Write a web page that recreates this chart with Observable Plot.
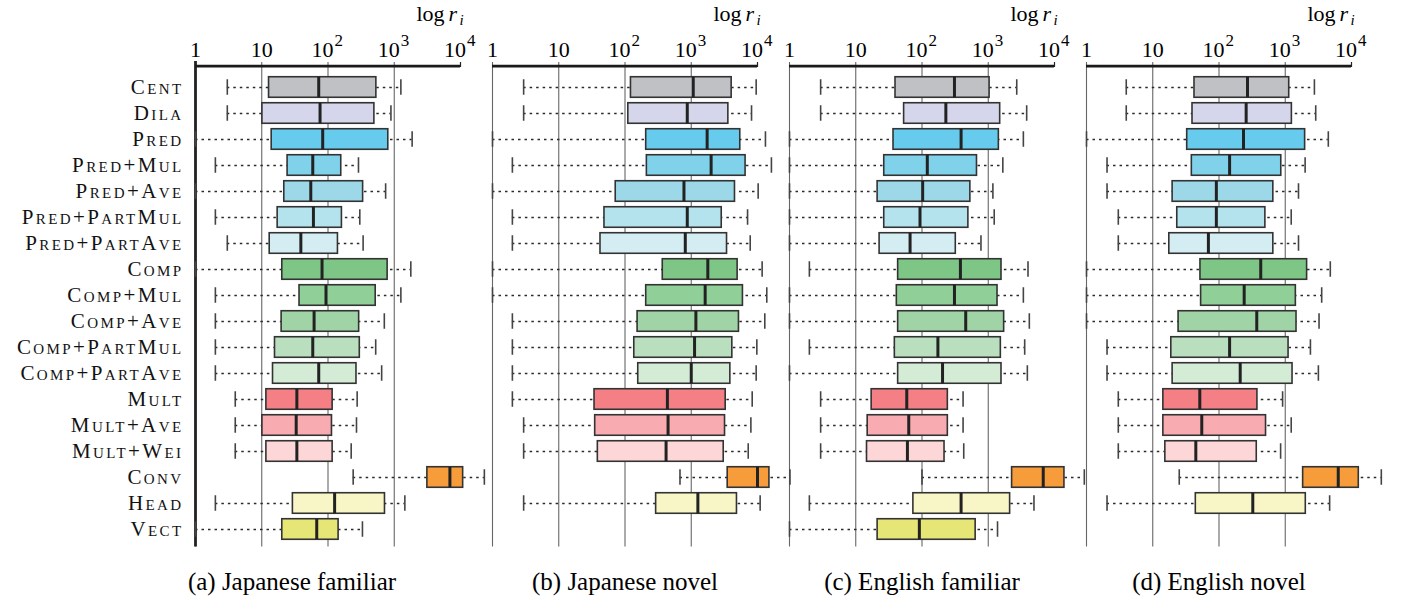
<!DOCTYPE html>
<html><head><meta charset="utf-8">
<script src="https://cdn.jsdelivr.net/npm/d3@7"></script>
<script src="https://cdn.jsdelivr.net/npm/@observablehq/plot@0.6"></script>
<style>
body { margin: 0; background: #fff; }
g[aria-label="y-axis tick label"] text { letter-spacing: 2.4px; font-variant: small-caps; }
</style>
</head><body><div id="chart"></div>
<script>
const categories = ["Cent","Dila","Pred","Pred+Mul","Pred+Ave","Pred+PartMul","Pred+PartAve","Comp","Comp+Mul","Comp+Ave","Comp+PartMul","Comp+PartAve","Mult","Mult+Ave","Mult+Wei","Conv","Head","Vect"];
const colors = ["#bfc1c4","#d5d5eb","#66cbed","#7fd2e9","#9dd8e8","#b4e3ee","#d4edf2","#7ec685","#91cf98","#a0d4a6","#b9dfbf","#d4ebd6","#f47f85","#f8abb0","#fdd6d7","#f79c3b","#f8f6c6","#e6e676"];
const panels = ["a","b","c","d"];
const captions = ["(a) Japanese familiar","(b) Japanese novel","(c) English familiar","(d) English novel"];
const tickValues = [0, 1, 2, 3, 4];          // log10 r
const tickBase = ["1", "10", "10", "10", "10"];
const tickExp = ["", "", "2", "3", "4"];

// each entry: [whisker low, Q1, median, Q3, whisker high] in log10 r
const statsA = [
  [0.48,1.11,1.86,2.73,3.10],[0.48,1.01,1.88,2.70,2.95],[0,1.15,1.92,2.91,3.27],
  [0.30,1.39,1.77,2.20,2.46],[0,1.34,1.74,2.53,2.87],[0.30,1.24,1.78,2.21,2.48],
  [0.48,1.12,1.59,2.15,2.53],[0,1.31,1.91,2.90,3.25],[0.30,1.57,1.97,2.72,3.10],
  [0.30,1.30,1.79,2.47,2.85],[0.30,1.20,1.77,2.48,2.72],[0.30,1.17,1.86,2.43,2.81],
  [0.60,1.07,1.53,2.07,2.44],[0.60,1.01,1.52,2.06,2.43],[0.60,1.07,1.53,2.07,2.35],
  [2.38,3.50,3.84,4.04,4.36],[0.30,1.47,2.10,2.86,3.16],[0,1.31,1.83,2.16,2.52]
];
const statsB = [
  [0.47,2.09,3.03,3.61,3.98],[0.47,2.05,2.94,3.56,3.91],[0,2.32,3.24,3.74,4.12],
  [0.30,2.33,3.30,3.82,4.21],[0,1.86,2.89,3.66,4.01],[0.30,1.69,2.94,3.46,3.85],
  [0.30,1.63,2.91,3.54,3.89],[0,2.57,3.25,3.70,4.07],[0,2.32,3.21,3.78,4.14],
  [0.30,2.19,3.07,3.72,4.11],[0.30,2.14,3.05,3.62,3.99],[0.30,2.20,3.00,3.59,3.98],
  [0.30,1.54,2.64,3.52,3.92],[0.47,1.55,2.65,3.51,3.90],[0.47,1.59,2.62,3.49,3.86],
  [2.83,3.55,4.00,4.18,4.49],[0.47,2.47,3.10,3.69,4.04],null
];
const statsC = [
  [0.47,1.60,2.49,3.02,3.43],[0.47,1.73,2.36,3.18,3.58],[0,1.57,2.59,3.16,3.53],
  [0,1.43,2.08,2.83,3.22],[0,1.33,2.01,2.73,3.07],[0,1.43,1.97,2.70,3.09],
  [0,1.36,1.82,2.51,2.89],[0.30,1.64,2.58,3.20,3.60],[0,1.62,2.49,3.14,3.53],
  [0,1.64,2.66,3.24,3.62],[0.30,1.59,2.24,3.19,3.55],[0,1.64,2.31,3.20,3.59],
  [0.47,1.24,1.77,2.39,2.62],[0.47,1.18,1.80,2.39,2.62],[0.47,1.17,1.78,2.34,2.63],
  [2.00,3.36,3.83,4.15,4.45],[0.30,1.87,2.59,3.33,3.69],[0,1.33,1.96,2.81,3.14]
];
const statsD = [
  [0.60,1.63,2.43,3.06,3.44],[0.60,1.60,2.41,3.10,3.46],[0,1.52,2.37,3.30,3.65],
  [0.31,1.59,2.16,2.94,3.30],[0.31,1.30,1.96,2.82,3.20],[0.48,1.37,1.96,2.70,3.09],
  [0.48,1.25,1.84,2.82,3.20],[0,1.72,2.63,3.33,3.68],[0,1.73,2.38,3.16,3.55],
  [0,1.39,2.57,3.17,3.51],[0.31,1.28,2.16,3.05,3.38],[0.31,1.30,2.32,3.11,3.50],
  [0.48,1.16,1.71,2.58,2.96],[0.48,1.16,1.74,2.71,3.09],[0.48,1.19,1.65,2.57,2.93],
  [1.40,3.27,3.80,4.11,4.45],[0.31,1.65,2.51,3.31,3.67],null
];
const allStats = [statsA, statsB, statsC, statsD];

const rows = [];
panels.forEach((p, pi) => allStats[pi].forEach((s, ci) => {
  if (s) rows.push({panel: p, cat: categories[ci], low: s[0], q1: s[1], med: s[2], q3: s[3], high: s[4]});
}));
const ticks = [];
panels.forEach(p => tickValues.forEach((v, i) => ticks.push({panel: p, v, base: tickBase[i], exp: tickExp[i]})));
const grid = ticks.filter(t => t.v < 4);
const capRows = panels.map((p, i) => ({panel: p, text: captions[i]}));

const W = 1405, H = 610;
const mt = 62, mb = 55.4, ml = 194.3, mr = 53.3;
const pO = 0.306;
const step = (H - mt - mb) / (categories.length + 2 * pO);
const outer = step * pO;
const boxInset = (step - 21) / 2;
const capInset = (step - 16) / 2;

const chart = Plot.plot({
  width: W, height: H,
  marginTop: mt, marginBottom: mb, marginLeft: ml, marginRight: mr,
  style: "font-family: 'Liberation Serif', 'Times New Roman', serif; font-size: 22px; background: #fff; overflow: visible;",
  fx: {domain: panels, paddingInner: 32.5 / 297.5, paddingOuter: 0, axis: null},
  x: {domain: [0, 4], axis: null},
  y: {domain: categories, paddingInner: 0, paddingOuter: pO, axis: null},
  color: {domain: categories, range: colors},
  marks: [
    Plot.ruleX(grid, {fx: "panel", x: "v", stroke: "#666", strokeWidth: 1.1, insetBottom: outer}),
    Plot.ruleX([{panel: "a", v: 0}], {fx: "panel", x: "v", stroke: "#222", strokeWidth: 2.8, insetTop: -1, insetBottom: outer}),
    Plot.ruleX(ticks.filter(t => t.v === 4), {fx: "panel", x: "v", stroke: "#222", strokeWidth: 1.2, insetBottom: H - mt - mb - 5}),
    Plot.ruleY(panels.map(p => ({panel: p})), {fx: "panel", y: () => categories[0], dy: -step * (pO + 0.5), stroke: "#1a1a1a", strokeWidth: 2.6}),
    Plot.ruleY(rows, {fx: "panel", y: "cat", x1: "low", x2: "high", stroke: "#2a2a2a", strokeWidth: 1.3, strokeDasharray: "2.5,4"}),
    Plot.tickX(rows, {fx: "panel", y: "cat", x: "low", stroke: "#444", strokeWidth: 1.6, insetTop: capInset, insetBottom: capInset}),
    Plot.tickX(rows, {fx: "panel", y: "cat", x: "high", stroke: "#444", strokeWidth: 1.6, insetTop: capInset, insetBottom: capInset}),
    Plot.barX(rows, {fx: "panel", y: "cat", x1: "q1", x2: "q3", fill: "cat", stroke: "#333", strokeWidth: 1.6, insetTop: boxInset, insetBottom: boxInset}),
    Plot.tickX(rows, {fx: "panel", y: "cat", x: "med", stroke: "#222", strokeWidth: 3, insetTop: boxInset, insetBottom: boxInset}),
    Plot.axisY({anchor: "left", tickSize: 0, tickPadding: 12, fontSize: 21, label: null, fill: "#111"}),
    // top axis tick labels
    Plot.text(ticks.filter(t => t.exp === ""), {fx: "panel", x: "v", text: "base", frameAnchor: "top", dy: -21, fontSize: 22}),
    Plot.text(ticks.filter(t => t.exp !== ""), {fx: "panel", x: "v", text: "base", frameAnchor: "top", dy: -21, dx: -5.5, fontSize: 22}),
    Plot.text(ticks.filter(t => t.exp !== ""), {fx: "panel", x: "v", text: "exp", frameAnchor: "top", dy: -29, dx: 6.5, textAnchor: "start", fontSize: 17}),
    // axis title log r_i
    Plot.text(capRows, {fx: "panel", text: () => "log", frameAnchor: "top-right", textAnchor: "end", lineAnchor: "bottom", dx: -16, dy: -42, fontSize: 22}),
    Plot.text(capRows, {fx: "panel", text: () => "r", frameAnchor: "top-right", textAnchor: "start", lineAnchor: "bottom", dx: -12, dy: -42, fontSize: 22, fontStyle: "italic"}),
    Plot.text(capRows, {fx: "panel", text: () => "i", frameAnchor: "top-right", textAnchor: "start", lineAnchor: "bottom", dx: -1, dy: -38, fontSize: 15, fontStyle: "italic"}),
    // captions
    Plot.text(capRows.filter(d => d.panel === "a"), {fx: "panel", text: "text", frameAnchor: "bottom", dy: 34.5, dx: -36, fontSize: 25}),
    Plot.text(capRows.filter(d => d.panel !== "a"), {fx: "panel", text: "text", frameAnchor: "bottom", dy: 34.5, fontSize: 25})
  ]
});
document.getElementById("chart").appendChild(chart);
</script>
</body></html>
